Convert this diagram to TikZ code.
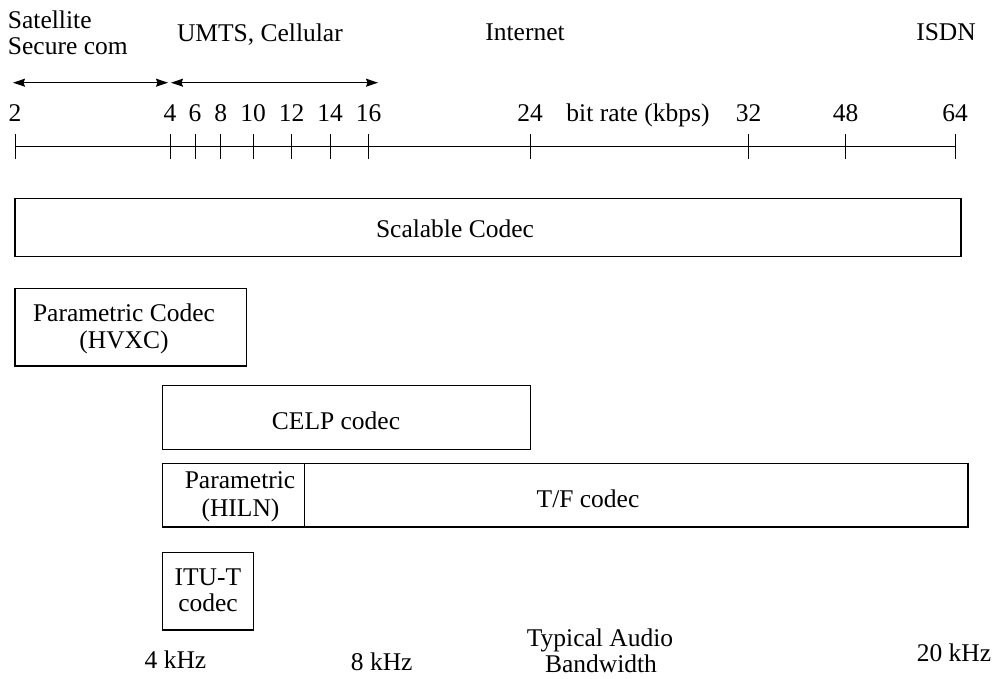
\documentclass[tikz,border=0pt]{standalone}
\usepackage{fontspec}
\setmainfont{Liberation Serif}
\usetikzlibrary{arrows.meta}
\begin{document}
\begin{tikzpicture}[x=1pt,y=-1pt,
  lbl/.style={inner sep=0pt, outer sep=0pt, anchor=base, font=\fontsize{25.5}{28}\selectfont},
  lblw/.style={lbl, anchor=base west},
  codecbox/.style={draw, line width=1.1pt, inner sep=0pt, outer sep=0pt, anchor=north west, rectangle},
  axisline/.style={line width=1pt},
  rangearrow/.style={line width=1pt, {Stealth[length=12pt,width=8pt,inset=1.5pt]}-{Stealth[length=12pt,width=8pt,inset=1.5pt]}}
]
\useasboundingbox (0,0) rectangle (993,678);

% application ranges
\node[lblw] (sat1) at (8,28) {Satellite};
\node[lblw] (sat2) at (8,54.3) {Secure com};
\node[lblw] (umts) at (177,41.7) {UMTS, Cellular};
\node[lbl] (inet) at (525,40.7) {Internet};
\node[lbl] (isdn) at (946,40.7) {ISDN};

\coordinate (a0) at (13,82.7);
\coordinate (a1) at (168,82.7);
\coordinate (b0) at (171,82.7);
\coordinate (b1) at (378,82.7);
\draw[rangearrow] (a0) -- (a1);
\draw[rangearrow] (b0) -- (b1);

% bit-rate axis
\foreach \v/\x in {2/15,4/170,6/195,8/220.7,10/253,12/291.7,14/330,16/368.7,24/530,32/748.7,48/845.7,64/955} {
  \coordinate (t\v) at (\x,146.7);
  \draw[axisline] (\x,134) -- (\x,159);
  \node[lbl] (n\v) at (\x,121.7) {\v};
}
\draw[axisline] (t2) -- (t64);
\node[lbl] (axlabel) at (638,121.7) {bit rate (kbps)};

% codec boxes
\node[codecbox, minimum width=946pt, minimum height=58pt] (scal) at (15,198.3) {};
\node[lblw] at (376,237.7) {Scalable Codec};

\node[codecbox, minimum width=231.7pt, minimum height=77.7pt] (hvxc) at (15,288.3) {};
\node[lbl] at (124,321.7) {Parametric Codec};
\node[lbl] at (124,348) {(HVXC)};

\node[codecbox, minimum width=368pt, minimum height=64pt] (celp) at (162.5,385.3) {};
\node[lbl] at (336,429) {CELP codec};

\node[codecbox, minimum width=141.8pt, minimum height=63.5pt] (hiln) at (162.5,463.5) {};
\node[lbl] at (240,488) {Parametric};
\node[lbl] at (240.5,516.5) {(HILN)};

\node[codecbox, minimum width=663.7pt, minimum height=63.5pt] (tf) at (304.3,463.5) {};
\node[lbl] at (588,507) {T/F codec};

\node[codecbox, minimum width=90.8pt, minimum height=77.3pt] (itu) at (162.5,552.7) {};
\node[lbl] at (207.8,585) {ITU-T};
\node[lbl] at (208,611.7) {codec};

% audio bandwidth labels
\node[lbl] (k4) at (175.5,668) {4 kHz};
\node[lbl] (k8) at (381.7,670) {8 kHz};
\node[lbl] (bw1) at (600,646) {Typical Audio};
\node[lbl] (bw2) at (601,672) {Bandwidth};
\node[lbl] (k20) at (954,661.7) {20 kHz};
\end{tikzpicture}
\end{document}
